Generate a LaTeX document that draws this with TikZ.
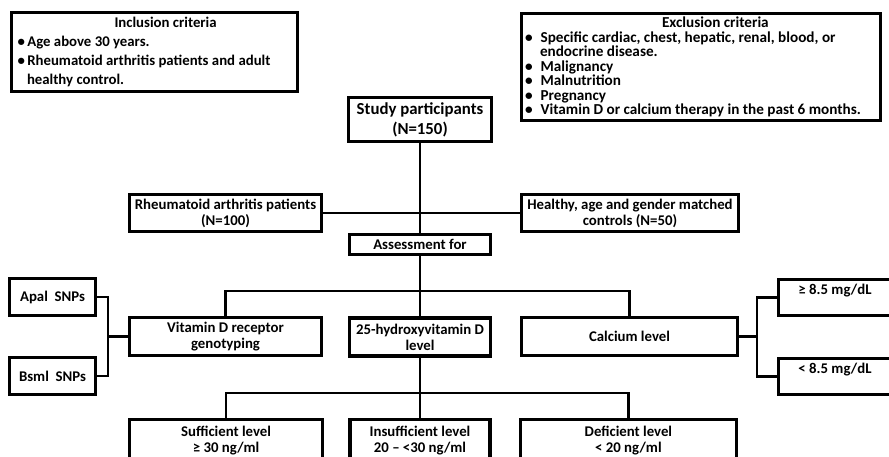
\documentclass[tikz,border=0pt]{standalone}
\usepackage{fontspec}
\setmainfont{Carlito}
\usetikzlibrary{positioning}

\begin{document}
\begin{tikzpicture}[x=1pt,y=-1pt,font=\bfseries\fontsize{14.8}{16}\selectfont,
    box/.style={draw,line width=3.4pt,align=center,inner sep=0pt},
    link/.style={line width=2.6pt}]

    \path[use as bounding box,clip] (0,0) rectangle (889,457);

    \node[box,minimum width=286pt,minimum height=79pt,text width=282pt,align=flush left,
          font=\bfseries\fontsize{14.8}{19}\selectfont] (0) at (154.5,52)
        {\hspace*{101pt}Inclusion criteria\\
         \hspace*{4pt}•\,Age above 30 years.\\
         \hspace*{4pt}•\,Rheumatoid arthritis patients and adult\\
         \hspace*{13.5pt}healthy control.};
    \node[box,minimum width=359pt,minimum height=107pt,text width=352pt,align=flush left,
          font=\bfseries\fontsize{15.2}{14.5}\selectfont] (1) at (701,67)
        {\hspace*{137pt}Exclusion criteria\\
         •\hspace{8pt}Specific cardiac, chest, hepatic, renal, blood, or\\
         \hspace*{15pt}endocrine disease.\\
         •\hspace{8pt}Malignancy\\
         •\hspace{8pt}Malnutrition\\
         •\hspace{8pt}Pregnancy\\
         •\hspace{8pt}Vitamin D or calcium therapy in the past 6 months.};
    \node[box,minimum width=143pt,minimum height=44pt,
          font=\bfseries\fontsize{16.8}{20}\selectfont] (2) at (420,119.5)
        {Study participants\\(N=150)};

    \node[box,minimum width=192pt,minimum height=37pt] (3) at (225.5,213)
        {Rheumatoid arthritis patients\\(N=100)};
    \node[box,minimum width=217pt,minimum height=37pt] (4) at (630,213)
        {Healthy, age and gender matched\\controls (N=50)};
    \node[box,minimum width=141pt,minimum height=20pt] (5) at (420,244.5)
        {Assessment for};

    \node[box,minimum width=192pt,minimum height=38pt] (6) at (225.5,336.5)
        {Vitamin D receptor\\genotyping};
    \node[box,minimum width=141pt,minimum height=38pt] (7) at (420,337)
        {25-hydroxyvitamin D\\level};
    \node[box,minimum width=216pt,minimum height=38pt] (8) at (629.5,336.5)
        {Calcium level};

    \node[box,minimum width=86pt,minimum height=37pt] (9) at (52.5,297)
        {Apal\ \ SNPs};
    \node[box,minimum width=86pt,minimum height=37pt] (10) at (52.5,376)
        {Bsml\ \ SNPs};
    \node[box,minimum width=113pt,minimum height=36pt] (11) at (835,297.5)
        {≥ 8.5 mg/dL\\\mbox{}};
    \node[box,minimum width=113pt,minimum height=36pt] (12) at (835,376.5)
        {< 8.5 mg/dL\\\mbox{}};

    \node[box,minimum width=140pt,minimum height=51pt] (14) at (420,445)
        {Insufficient level\\20 – <30 ng/ml\\[-4pt]\mbox{}};
    \node[box,minimum width=193pt,minimum height=51pt,left=24pt of 14] (13)
        {Sufficient level\\≥ 30 ng/ml\\[-4pt]\mbox{}};
    \node[box,minimum width=216pt,minimum height=51pt,right=27pt of 14] (15)
        {Deficient level\\< 20 ng/ml\\[-4pt]\mbox{}};

    \coordinate (a) at (420,291);
    \coordinate (b) at (108,336.5);
    \coordinate (c) at (757,336.5);
    \coordinate (d) at (420,393);

    \draw[link] (2) -- (5);
    \draw[link] (3) -- (4);
    \draw[link] (5) -- (a);
    \draw[link] (6.north) |- (a) -| (8.north);
    \draw[link] (a) -- (7);
    \draw[link] (9.east) -| (b) |- (10.east);
    \draw[link] (b) -- (6);
    \draw[link] (11.west) -| (c) |- (12.west);
    \draw[link] (8) -- (c);
    \draw[link] (7) -- (d);
    \draw[link] (13.north) |- (d) -| (15.north);
    \draw[link] (d) -- (14);
  \end{tikzpicture}
\end{document}
